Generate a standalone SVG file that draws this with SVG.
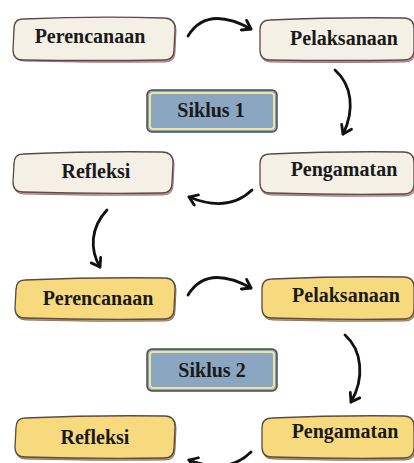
<svg xmlns="http://www.w3.org/2000/svg" width="414" height="463" viewBox="0 0 414 463">
<defs>
<style>
.sh1{fill:#c9a3a0;stroke:#a87474;stroke-width:1}
.sh2{fill:#bfa070;stroke:#8e7656;stroke-width:1}
.b1{fill:#f4f0e6;stroke:#5c4a48;stroke-width:1.3}
.b2{fill:#f8da7e;stroke:#5c4a48;stroke-width:1.3}
.sk{fill:#8ba6c0;stroke:#4a4a55;stroke-width:1.5}
.ski{fill:none;stroke:#efe49a;stroke-width:2}
text{font-family:"Liberation Serif","Times New Roman",serif;font-weight:bold;font-size:20px;fill:#1a1a1a;text-anchor:middle}
.arr{fill:none;stroke:#111;stroke-width:2.8;stroke-linecap:round;marker-end:url(#ah)}
</style>
<marker id="ah" viewBox="0 0 14 14" refX="11" refY="7" markerWidth="14" markerHeight="14" markerUnits="userSpaceOnUse" orient="auto">
<path d="M3,1.5 L11,7 L3,12.5" fill="none" stroke="#111" stroke-width="2.8" stroke-linecap="round" stroke-linejoin="round"/>
</marker>
</defs>

<g id="perencanaan1">
<path class="sh1" d="M24,20 Q95,17 165,19 Q176,19 176,30 L175,52 Q175,62 165,62 Q95,63 24,61 Q14,61 14,51 L14,30 Q14,20 24,20 Z"/>
<path class="b1" d="M23,19 Q95,16 164,18 Q175,18 175,29 L174,50 Q174,60 164,60 Q95,61 23,60 Q13,60 13,50 L14,29 Q14,19 23,19 Z"/>
<text x="90" y="43">Perencanaan</text>
</g>
<g id="pelaksanaan1">
<path class="sh1" d="M271,21 Q340,18 405,19 Q415,19 415,30 L415,52 Q415,62 405,62 Q340,63 271,62 Q261,62 261,52 L261,31 Q261,21 271,21 Z"/>
<path class="b1" d="M270,20 Q340,17 404,18 Q414,18 414,29 L414,50 Q414,60 404,60 Q340,61 270,60 Q260,60 260,50 L260,30 Q260,20 270,20 Z"/>
<text x="344" y="45">Pelaksanaan</text>
</g>
<g id="siklus1">
<rect class="sk" x="147" y="90" width="130" height="42" rx="5"/>
<rect class="ski" x="150" y="93" width="124" height="36" rx="3"/>
<text x="211" y="117">Siklus 1</text>
</g>
<g id="refleksi1">
<path class="sh1" d="M24,155 Q95,152 163,153 Q174,153 174,164 L173,185 Q173,195 163,195 Q95,196 24,194 Q14,194 14,184 L14,165 Q14,155 24,155 Z"/>
<path class="b1" d="M23,154 Q95,151 162,152 Q173,152 173,163 L172,183 Q172,193 162,193 Q95,194 23,192 Q13,192 13,182 L14,164 Q14,154 23,154 Z"/>
<text x="96" y="178">Refleksi</text>
</g>
<g id="pengamatan1">
<path class="sh1" d="M271,155 Q340,152 405,153 Q415,153 415,164 L415,186 Q415,196 405,196 Q340,197 271,195 Q261,195 261,185 L261,165 Q261,155 271,155 Z"/>
<path class="b1" d="M270,154 Q340,151 404,152 Q414,152 414,163 L414,184 Q414,194 404,194 Q340,195 270,193 Q260,193 260,183 L260,164 Q260,154 270,154 Z"/>
<text x="344" y="176">Pengamatan</text>
</g>
<g id="perencanaan2">
<path class="sh2" d="M26,281 Q95,278 166,279 Q176,279 176,290 L175,311 Q175,321 165,321 Q95,322 26,320 Q16,320 16,310 L16,291 Q16,281 26,281 Z"/>
<path class="b2" d="M25,280 Q95,277 165,278 Q175,278 175,289 L174,309 Q174,319 164,319 Q95,320 25,318 Q15,318 15,308 L16,290 Q16,280 25,280 Z"/>
<text x="98" y="305">Perencanaan</text>
</g>
<g id="pelaksanaan2">
<path class="sh2" d="M273,280 Q340,277 405,278 Q415,278 415,289 L415,311 Q415,321 405,321 Q340,322 273,320 Q263,320 263,310 L263,290 Q263,280 273,280 Z"/>
<path class="b2" d="M272,279 Q340,276 404,277 Q414,277 414,288 L414,309 Q414,319 404,319 Q340,320 272,318 Q262,318 262,308 L262,289 Q262,279 272,279 Z"/>
<text x="346" y="302">Pelaksanaan</text>
</g>
<g id="siklus2">
<rect class="sk" x="147" y="349" width="130" height="42" rx="5"/>
<rect class="ski" x="150" y="352" width="124" height="36" rx="3"/>
<text x="212" y="377">Siklus 2</text>
</g>
<g id="refleksi2">
<path class="sh2" d="M26,419 Q95,416 166,417 Q176,417 176,428 L175,450 Q175,460 165,460 Q95,461 26,459 Q16,459 16,449 L16,429 Q16,419 26,419 Z"/>
<path class="b2" d="M25,418 Q95,415 165,416 Q175,416 175,427 L174,448 Q174,458 164,458 Q95,459 25,457 Q15,457 15,447 L16,428 Q16,418 25,418 Z"/>
<text x="95" y="444">Refleksi</text>
</g>
<g id="pengamatan2">
<path class="sh2" d="M273,419 Q340,416 405,417 Q415,417 415,428 L415,450 Q415,460 405,460 Q340,461 273,459 Q263,459 263,449 L263,429 Q263,419 273,419 Z"/>
<path class="b2" d="M272,418 Q340,415 404,416 Q414,416 414,427 L414,448 Q414,458 404,458 Q340,459 272,457 Q262,457 262,447 L262,428 Q262,418 272,418 Z"/>
<text x="345" y="438">Pengamatan</text>
</g>

<g id="connectors">
<path class="arr" d="M188,36 Q207,5 251,29"/>
<path class="arr" d="M335,70 C352,85 355,110 343,134"/>
<path class="arr" d="M252,190 Q228,213 189,197"/>
<path class="arr" d="M107,210 C90,228 90,250 100,267"/>
<path class="arr" d="M188,295 Q207,264 251,288"/>
<path class="arr" d="M345,335 C362,350 365,378 351,402"/>
<path class="arr" d="M251,452 Q228,475 189,460"/>
</g>
</svg>
